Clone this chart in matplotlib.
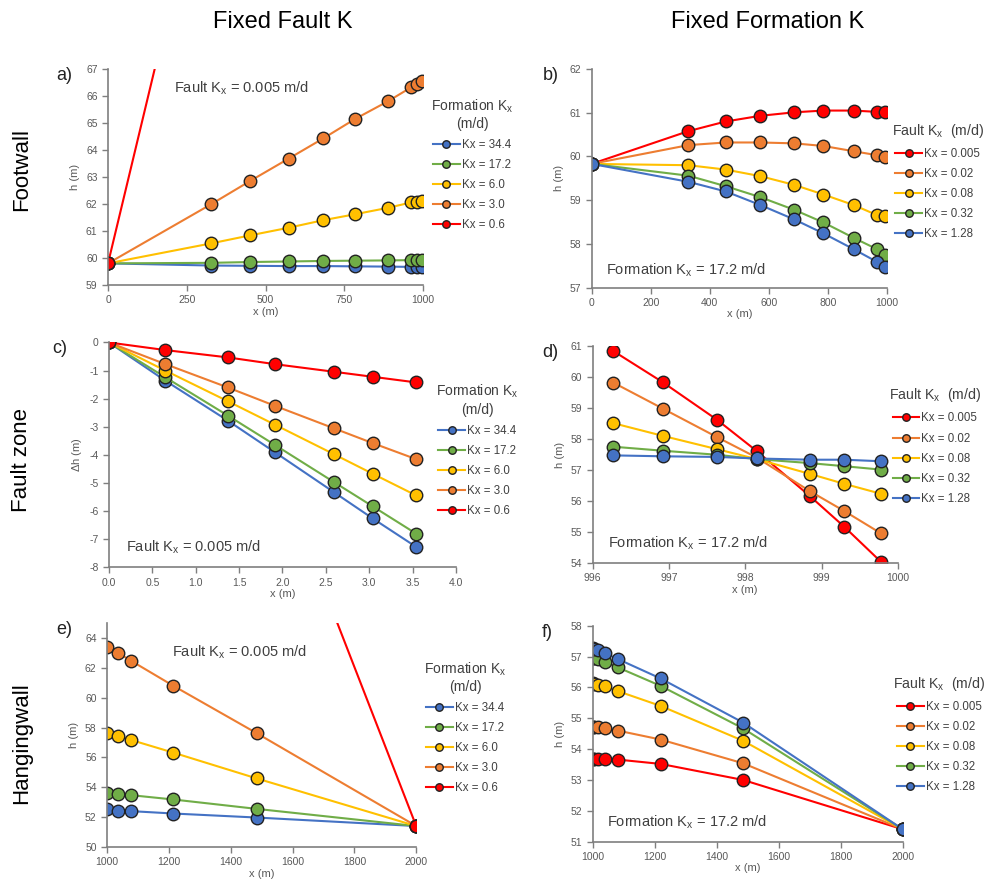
import matplotlib
matplotlib.use('Agg')
import matplotlib.pyplot as plt

plt.rcParams['font.family'] = ['Liberation Sans', 'DejaVu Sans']
plt.rcParams['mathtext.fontset'] = 'custom'
plt.rcParams['mathtext.rm'] = 'Liberation Sans'
plt.rcParams['axes.unicode_minus'] = False

# colores tipo Excel
c_azul = '#4472C4'
c_verde = '#70AD47'
c_amarillo = '#FFC000'
c_naranja = '#ED7D31'
c_rojo = '#FF0000'

# etiquetas de leyenda
form_labels = ['Kx = 34.4', 'Kx = 17.2', 'Kx = 6.0', 'Kx = 3.0', 'Kx = 0.6']
form_colors = [c_azul, c_verde, c_amarillo, c_naranja, c_rojo]
fault_labels = ['Kx = 0.005', 'Kx = 0.02', 'Kx = 0.08', 'Kx = 0.32', 'Kx = 1.28']
fault_colors = [c_rojo, c_naranja, c_amarillo, c_verde, c_azul]

# a) footwall, fault K fijo
xa = [0, 327, 452, 573, 683, 784, 889, 963, 979, 997]
ha_344 = [59.8, 59.72, 59.71, 59.70, 59.70, 59.69, 59.68, 59.67, 59.67, 59.66]
ha_172 = [59.8, 59.82, 59.85, 59.87, 59.89, 59.90, 59.91, 59.92, 59.93, 59.93]
ha_60 = [59.8, 60.54, 60.84, 61.12, 61.40, 61.62, 61.86, 62.06, 62.08, 62.12]
ha_30 = [59.8, 61.99, 62.86, 63.68, 64.43, 65.15, 65.81, 66.33, 66.46, 66.57]
ha_06 = [59.8, 75.7, 81.8, 87.7, 93.1, 98.0, 103.1, 106.7, 107.5, 108.4]

# b) footwall, formation K fijo
xb = [0, 328, 454, 571, 686, 785, 887, 966, 994]
hb_0005 = [59.83, 60.58, 60.80, 60.93, 61.01, 61.05, 61.05, 61.02, 61.01]
hb_002 = [59.83, 60.26, 60.32, 60.32, 60.30, 60.24, 60.12, 60.03, 59.99]
hb_008 = [59.83, 59.80, 59.70, 59.55, 59.35, 59.13, 58.89, 58.66, 58.64]
hb_032 = [59.83, 59.56, 59.32, 59.07, 58.78, 58.49, 58.14, 57.88, 57.75]
hb_128 = [59.83, 59.42, 59.20, 58.89, 58.56, 58.24, 57.88, 57.59, 57.47]

# c) zona de falla, fault K fijo
xc = [0, 0.65, 1.37, 1.91, 2.59, 3.04, 3.54]
dh_344 = [0, -1.36, -2.78, -3.90, -5.32, -6.26, -7.27]
dh_172 = [0, -1.24, -2.60, -3.64, -4.96, -5.83, -6.80]
dh_60 = [0, -1.00, -2.09, -2.92, -3.97, -4.67, -5.44]
dh_30 = [0, -0.77, -1.60, -2.25, -3.05, -3.58, -4.15]
dh_06 = [0, -0.27, -0.53, -0.77, -1.04, -1.22, -1.42]

# d) zona de falla, formation K fijo
xd = [996.27, 996.92, 997.63, 998.15, 998.85, 999.30, 999.78]
hd_0005 = [60.84, 59.83, 58.62, 57.61, 56.15, 55.16, 54.03]
hd_002 = [59.82, 58.98, 58.06, 57.40, 56.31, 55.67, 54.95]
hd_008 = [58.51, 58.10, 57.67, 57.35, 56.87, 56.55, 56.23]
hd_032 = [57.75, 57.62, 57.49, 57.35, 57.22, 57.12, 57.01]
hd_128 = [57.47, 57.44, 57.42, 57.37, 57.33, 57.33, 57.28]

# e) hangingwall, fault K fijo
xe = [1000, 1036, 1077, 1214, 1484, 2000]
he_344 = [52.51, 52.44, 52.40, 52.24, 51.97, 51.4]
he_172 = [53.63, 53.54, 53.47, 53.18, 52.55, 51.4]
he_60 = [57.66, 57.46, 57.17, 56.32, 54.59, 51.4]
he_30 = [63.40, 63.00, 62.48, 60.80, 57.62, 51.4]
he_06 = [104.7, 102.8, 100.6, 93.3, 78.9, 51.4]

# f) hangingwall, formation K fijo
xf = [1000, 1006, 1018, 1040, 1081, 1219, 1485, 2000]
hf_0005 = [53.68, 53.68, 53.67, 53.67, 53.66, 53.52, 53.00, 51.4]
hf_002 = [54.73, 54.73, 54.71, 54.67, 54.60, 54.31, 53.54, 51.4]
hf_008 = [56.13, 56.11, 56.08, 56.03, 55.88, 55.40, 54.27, 51.4]
hf_032 = [56.96, 56.94, 56.91, 56.82, 56.65, 56.05, 54.67, 51.4]
hf_128 = [57.27, 57.25, 57.21, 57.10, 56.92, 56.29, 54.86, 51.4]

gris = '#595959'
kx = r'K$_\mathregular{x}$'


def estilo(ax):
    for s in ['top', 'right']:
        ax.spines[s].set_visible(False)
    for s in ['left', 'bottom']:
        ax.spines[s].set_color('#7f7f7f')
        ax.spines[s].set_linewidth(1.2)
    ax.tick_params(labelsize=7.5, colors=gris, length=4, width=1, direction='out')
    ax.tick_params(axis='both', color='#7f7f7f')


def dibujar(ax, x, series, colores, labels):
    for y, c, l in zip(series, colores, labels):
        ax.plot(x, y, color=c, lw=1.5, marker='o', markersize=9,
                markerfacecolor=c, markeredgecolor='#222222', markeredgewidth=1.0,
                label=l)


def leyenda(ax, titulo, pos, tsize=10.5):
    leg = ax.legend(title=titulo, loc='upper left', bbox_to_anchor=pos,
                    frameon=False, fontsize=8.3, title_fontsize=tsize,
                    markerscale=0.6, handlelength=2.3, handletextpad=0.2,
                    labelspacing=0.7, borderaxespad=0)
    leg.get_title().set_multialignment('center')
    leg.get_title().set_color('#404040')
    for t in leg.get_texts():
        t.set_color('#404040')


fig = plt.figure(figsize=(9.91, 8.85), dpi=100)

ax_a = fig.add_axes([0.109, 0.678, 0.318, 0.244])
ax_b = fig.add_axes([0.597, 0.675, 0.298, 0.247])
ax_c = fig.add_axes([0.110, 0.359, 0.350, 0.254])
ax_d = fig.add_axes([0.598, 0.364, 0.308, 0.245])
ax_e = fig.add_axes([0.108, 0.043, 0.312, 0.253])
ax_f = fig.add_axes([0.598, 0.049, 0.313, 0.244])

# a)
dibujar(ax_a, xa, [ha_344, ha_172, ha_60, ha_30, ha_06], form_colors, form_labels)
ax_a.set_xlim(0, 1000)
ax_a.set_ylim(59, 67)
ax_a.set_xticks([0, 250, 500, 750, 1000])
ax_a.set_yticks(range(59, 68))
leyenda(ax_a, 'Formation ' + kx + '\n(m/d)', (1.01, 0.89), 10)
ax_a.text(0.21, 0.91, 'Fault ' + kx + ' = 0.005 m/d', transform=ax_a.transAxes,
          fontsize=10.5, color='#404040', va='center')

# b)
dibujar(ax_b, xb, [hb_0005, hb_002, hb_008, hb_032, hb_128], fault_colors, fault_labels)
ax_b.set_xlim(0, 1000)
ax_b.set_ylim(57, 62)
ax_b.set_xticks([0, 200, 400, 600, 800, 1000])
ax_b.set_yticks(range(57, 63))
leyenda(ax_b, 'Fault ' + kx + '  (m/d)', (1.0, 0.78), 10.2)
ax_b.text(0.05, 0.08, 'Formation ' + kx + ' = 17.2 m/d', transform=ax_b.transAxes,
          fontsize=10.5, color='#404040', va='center')

# c)
dibujar(ax_c, xc, [dh_344, dh_172, dh_60, dh_30, dh_06], form_colors, form_labels)
ax_c.set_xlim(0, 4)
ax_c.set_ylim(-8, 0)
ax_c.set_xticks([0, 0.5, 1, 1.5, 2, 2.5, 3, 3.5, 4])
ax_c.set_xticklabels(['0.0', '0.5', '1.0', '1.5', '2.0', '2.5', '3.0', '3.5', '4.0'])
ax_c.set_yticks(range(-8, 1))
leyenda(ax_c, 'Formation ' + kx + '\n(m/d)', (0.93, 0.84), 10)
ax_c.text(0.05, 0.09, 'Fault ' + kx + ' = 0.005 m/d', transform=ax_c.transAxes,
          fontsize=10.5, color='#404040', va='center')

# d)
dibujar(ax_d, xd, [hd_0005, hd_002, hd_008, hd_032, hd_128], fault_colors, fault_labels)
ax_d.set_xlim(996, 1000)
ax_d.set_ylim(54, 61)
ax_d.set_xticks([996, 997, 998, 999, 1000])
ax_d.set_yticks(range(54, 62))
leyenda(ax_d, 'Fault ' + kx + '  (m/d)', (0.955, 0.835), 10.2)
ax_d.text(0.05, 0.09, 'Formation ' + kx + ' = 17.2 m/d', transform=ax_d.transAxes,
          fontsize=10.5, color='#404040', va='center')

# e)
dibujar(ax_e, xe, [he_344, he_172, he_60, he_30, he_06], form_colors, form_labels)
ax_e.set_xlim(1000, 2000)
ax_e.set_ylim(50, 65)
ax_e.set_xticks([1000, 1200, 1400, 1600, 1800, 2000])
ax_e.set_yticks(range(50, 65, 2))
leyenda(ax_e, 'Formation ' + kx + '\n(m/d)', (1.01, 0.855), 10)
ax_e.text(0.21, 0.87, 'Fault ' + kx + ' = 0.005 m/d', transform=ax_e.transAxes,
          fontsize=10.5, color='#404040', va='center')

# f)
dibujar(ax_f, xf, [hf_0005, hf_002, hf_008, hf_032, hf_128], fault_colors, fault_labels)
ax_f.set_xlim(1000, 2000)
ax_f.set_ylim(51, 58)
ax_f.set_xticks([1000, 1200, 1400, 1600, 1800, 2000])
ax_f.set_yticks(range(51, 59))
leyenda(ax_f, 'Fault ' + kx + '  (m/d)', (0.955, 0.795), 10.2)
ax_f.text(0.045, 0.09, 'Formation ' + kx + ' = 17.2 m/d', transform=ax_f.transAxes,
          fontsize=10.5, color='#404040', va='center')

for ax, letra in zip([ax_a, ax_b, ax_c, ax_d, ax_e, ax_f], 'abcdef'):
    estilo(ax)
    ax.set_xlabel('x (m)', fontsize=8, color=gris, labelpad=1)
    ax.set_ylabel(r'$\Delta$h (m)' if letra == 'c' else 'h (m)', fontsize=8,
                  color=gris, labelpad=4)
    ax.text(-0.165, 1.01, letra + ')', transform=ax.transAxes, fontsize=13,
            color='#222222', va='top', ha='left')

# titulos de columnas y filas
fig.text(0.285, 0.975, 'Fixed Fault K', fontsize=17, ha='center', va='center')
fig.text(0.775, 0.975, 'Fixed Formation K', fontsize=17, ha='center', va='center')
fig.text(0.022, 0.808, 'Footwall', fontsize=16, rotation=90, ha='center', va='center')
fig.text(0.022, 0.48, 'Fault zone', fontsize=16, rotation=90, ha='center', va='center')
fig.text(0.022, 0.160, 'Hangingwall', fontsize=16, rotation=90, ha='center', va='center')

fig.savefig('out.png', dpi=100)
